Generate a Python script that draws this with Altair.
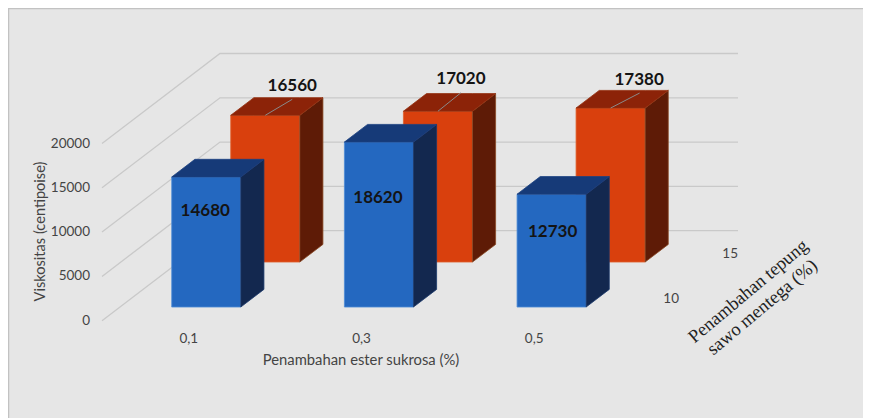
import altair as alt
import pandas as pd

# ---- chart values ----
categories = ["0,1", "0,3", "0,5"]
depths = ["10", "15"]
blue_values = [14680, 18620, 12730]
orange_values = [16560, 17020, 17380]
y_ticks = [0, 5000, 10000, 15000, 20000]
x_title = "Penambahan ester sukrosa  (%)"
y_title = "Viskositas (centipoise)"
z_title = ["Penambahan tepung", "sawo mentega (%)"]

# ---- oblique projection of (category, depth, value) on the picture ----
ORG_X, ORG_Y = 102.0, 320.7
CAT_W = 172.67
DEPTH_X, DEPTH_Y = 59.0, 45.0
PX_PER_UNIT = 0.00886
BAR_PAD = 0.30
DEPTH_PAD = 0.304


def px(u, w):
    return ORG_X + CAT_W * u + DEPTH_X * w


def py(w, v):
    return ORG_Y - DEPTH_Y * w - PX_PER_UNIT * v


PAL = {
    0: dict(front="#2468c0", top="#163a78", side="#13284f",
            efront="#4d8ad6", etop="#1a4080", eside="#1c3a6c"),
    1: dict(front="#d9400d", top="#8c2308", side="#5e1b06",
            efront="#e0602c", etop="#94300f", eside="#8a4a26"),
}

faces = []


def add_bar(i, j, value, pid):
    c = PAL[j]
    u0, u1 = i + BAR_PAD, i + 1 - BAR_PAD
    w0, w1 = j + DEPTH_PAD, j + 1 - DEPTH_PAD

    def row(face, x, a, b, fill, stroke):
        faces.append(dict(face=f"{pid}-{face}", x=x, y=a, y2=b, fill=fill, stroke=stroke))

    # front face
    row("a", px(u0, w0), py(w0, value), py(w0, 0), c["front"], c["efront"])
    row("a", px(u1, w0), py(w0, value), py(w0, 0), c["front"], c["efront"])
    # side face
    row("b", px(u1, w0), py(w0, value), py(w0, 0), c["side"], c["eside"])
    row("b", px(u1, w1), py(w1, value), py(w1, 0), c["side"], c["eside"])
    # top face
    yf, yb = py(w0, value), py(w1, value)
    row("c", px(u0, w0), yf, yf, c["top"], c["etop"])
    row("c", px(u0, w1), yb, yf, c["top"], c["etop"])
    row("c", px(u1, w0), yb, yf, c["top"], c["etop"])
    row("c", px(u1, w1), yb, yb, c["top"], c["etop"])


pid = 10
for i, v in enumerate(orange_values):
    add_bar(i, 1, v, pid)
    pid += 1
for i, v in enumerate(blue_values):
    add_bar(i, 0, v, pid)
    pid += 1
faces_df = pd.DataFrame(faces)

# gridlines: front-left -> back-left -> back-right
grid = []
for v in y_ticks:
    grid.append(dict(v=v, s=0, x=px(0, 0), y=py(0, v)))
    grid.append(dict(v=v, s=1, x=px(0, 2), y=py(2, v)))
    grid.append(dict(v=v, s=2, x=px(3, 2), y=py(2, v)))
grid_df = pd.DataFrame(grid)

X = dict(scale=alt.Scale(domain=[8, 863]), axis=None)
Y = dict(scale=alt.Scale(domain=[418, 8]), axis=None)


def xe(f="x"):
    return alt.X(f"{f}:Q", **X)


def ye(f="y"):
    return alt.Y(f"{f}:Q", **Y)


frame_left = alt.Chart(pd.DataFrame({"x": [8.5, 8.5], "y": [8, 418]})).mark_line(
    color="#c2c2c2", strokeWidth=1.5).encode(x=xe(), y=ye())
frame_top = alt.Chart(pd.DataFrame({"x": [8, 863], "y": [8.5, 8.5]})).mark_line(
    color="#c2c2c2", strokeWidth=1.5).encode(x=xe(), y=ye())

grid_layer = alt.Chart(grid_df).mark_line(color="#c9c9c9", strokeWidth=1.3).encode(
    x=xe(), y=ye(), detail="v:N", order="s:Q")

bars_layer = alt.Chart(faces_df).mark_area(strokeWidth=0.8, interpolate="linear").encode(
    x=xe(), y=ye(), y2="y2:Q", detail="face:N",
    fill=alt.Fill("fill:N", scale=None), stroke=alt.Stroke("stroke:N", scale=None))

# leader lines above the orange bars
leader_off = [(27, -16), (23, -18.5), (29, -15)]
lead = []
for i, v in enumerate(orange_values):
    x0 = px(i + 0.5, 1 + DEPTH_PAD)
    y0 = py(1 + DEPTH_PAD, v)
    lead.append(dict(k=i, x=x0, y=y0))
    lead.append(dict(k=i, x=x0 + leader_off[i][0], y=y0 + leader_off[i][1]))
leader_layer = alt.Chart(pd.DataFrame(lead)).mark_line(color="#8a8a8a", strokeWidth=1).encode(
    x=xe(), y=ye(), detail="k:N")

# value labels
labels = []
orange_lab = [(27, -29.5), (23, -32), (28.5, -28.5)]
blue_lab = [(-1, 34), (-1, 56), (1, 38)]
for i, v in enumerate(orange_values):
    labels.append(dict(t=str(v), x=px(i + 0.5, 1 + DEPTH_PAD) + orange_lab[i][0],
                       y=py(1 + DEPTH_PAD, v) + orange_lab[i][1]))
for i, v in enumerate(blue_values):
    labels.append(dict(t=str(v), x=px(i + 0.5, DEPTH_PAD) + blue_lab[i][0],
                       y=py(DEPTH_PAD, v) + blue_lab[i][1]))
label_layer = alt.Chart(pd.DataFrame(labels)).mark_text(
    font="Lato", fontSize=17, fontWeight="bold", color="#141414").encode(
    x=xe(), y=ye(), text="t:N")

# tick labels
ytick_df = pd.DataFrame([dict(t=str(v), x=px(0, 0) - 12, y=py(0, v)) for v in y_ticks])
ytick_layer = alt.Chart(ytick_df).mark_text(
    font="Lato", fontSize=13.5, color="#444444", align="right").encode(
    x=xe(), y=ye(), text="t:N")

xtick_df = pd.DataFrame([dict(t=c, x=px(i + 0.5, 0) + 0.5, y=py(0, 0) + 18) for i, c in enumerate(categories)])
xtick_layer = alt.Chart(xtick_df).mark_text(font="Lato", fontSize=13.5, color="#444444").encode(
    x=xe(), y=ye(), text="t:N")

ztick_df = pd.DataFrame([dict(t=d, x=px(3, j + 1), y=py(j + 1, 0) + 23) for j, d in enumerate(depths)])
ztick_layer = alt.Chart(ztick_df).mark_text(font="Lato", fontSize=13.5, color="#444444", align="right").encode(
    x=xe(), y=ye(), text="t:N")

xtitle_layer = alt.Chart(pd.DataFrame([dict(t=x_title, x=361, y=361)])).mark_text(
    font="Lato", fontSize=14.8, color="#444444").encode(x=xe(), y=ye(), text="t:N")
ytitle_layer = alt.Chart(pd.DataFrame([dict(t=y_title, x=41, y=231.5)])).mark_text(
    font="Lato", fontSize=14.6, color="#444444", angle=270).encode(x=xe(), y=ye(), text="t:N")
ztitle_layer = alt.Chart(pd.DataFrame([dict(t=z_title[0], x=748, y=291), dict(t=z_title[1], x=762, y=307)])).mark_text(
    font="Liberation Serif", fontSize=18.5, color="#222222", angle=320).encode(x=xe(), y=ye(), text="t:N")

chart = alt.layer(
    frame_left, frame_top, grid_layer, bars_layer, leader_layer, label_layer,
    ytick_layer, xtick_layer, ztick_layer, xtitle_layer, ytitle_layer, ztitle_layer,
).properties(
    width=855, height=410, background="#e6e6e6", padding=0,
    autosize=alt.AutoSizeParams(type="none"),
).configure_view(stroke=None)

chart.save("out.html", embed_options={"renderer": "svg", "actions": False})
